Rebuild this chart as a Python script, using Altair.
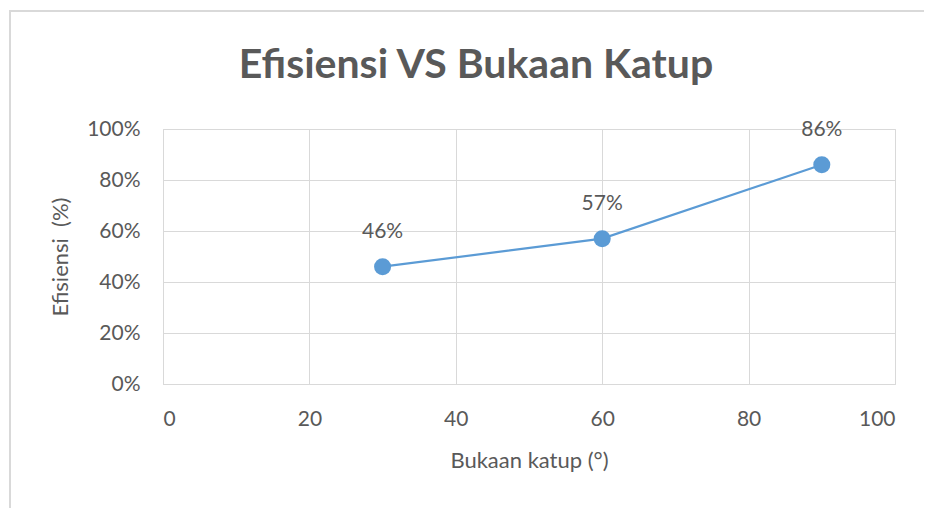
import altair as alt
import pandas as pd

bukaan = [30, 60, 90]
efisiensi = [0.46, 0.57, 0.86]
labels = ["46%", "57%", "86%"]
x_ticks = [0, 20, 40, 60, 80, 100]
y_ticks = [0, 0.2, 0.4, 0.6, 0.8, 1.0]

df = pd.DataFrame({"bukaan": bukaan, "eff": efisiensi, "label": labels})

FONT = "Lato"
TXT = "#595959"
GRID = "#d9d9d9"
BLUE = "#5B9BD5"

x = alt.X("bukaan:Q", scale=alt.Scale(domain=[0, 100], nice=False),
          axis=alt.Axis(values=x_ticks, title="Bukaan katup (°)", labelPadding=24,
                        titleY=66, titleBaseline="top", titleFontSize=22))
y = alt.Y("eff:Q", scale=alt.Scale(domain=[0, 1], nice=False),
          axis=alt.Axis(values=y_ticks, format=".0%", title="Efisiensi\u00a0\u00a0(%)",
                        labelPadding=23, titlePadding=14, titleFontSize=22))

border = alt.Chart(pd.DataFrame({"a": [0]})).mark_rect(
    fill=None, stroke=GRID, strokeWidth=2
).encode(x=alt.value(-153), x2=alt.value(950), y=alt.value(-118), y2=alt.value(600))

line = alt.Chart(df).mark_line(color=BLUE, strokeWidth=2.2).encode(x=x, y=y)
pts = alt.Chart(df).mark_circle(color=BLUE, size=290, opacity=1).encode(x=x, y=y)
txt = alt.Chart(df).mark_text(dy=-35, fontSize=21, font=FONT, color=TXT).encode(
    x=x, y=y, text="label:N")
title = alt.Chart(pd.DataFrame({"t": ["Efisiensi VS Bukaan Katup"]})).mark_text(
    fontSize=41, fontWeight="bold", font=FONT, color=TXT, baseline="middle"
).encode(x=alt.value(313), y=alt.value(-63), text="t:N")

chart = alt.layer(border, line, pts, txt, title).properties(
    width=732, height=255,
    padding={"left": 155, "top": 121, "right": 29, "bottom": 124},
    autosize=alt.AutoSizeParams(type="none"),
).configure_view(stroke=GRID).configure(background="white").configure_axis(
    grid=True, gridColor=GRID, domainColor=GRID, tickSize=0,
    labelFontSize=21, labelColor=TXT, labelFont=FONT,
    titleFont=FONT, titleFontWeight="normal", titleColor=TXT,
)

chart.save("out.html", embed_options={"renderer": "svg", "actions": False})
